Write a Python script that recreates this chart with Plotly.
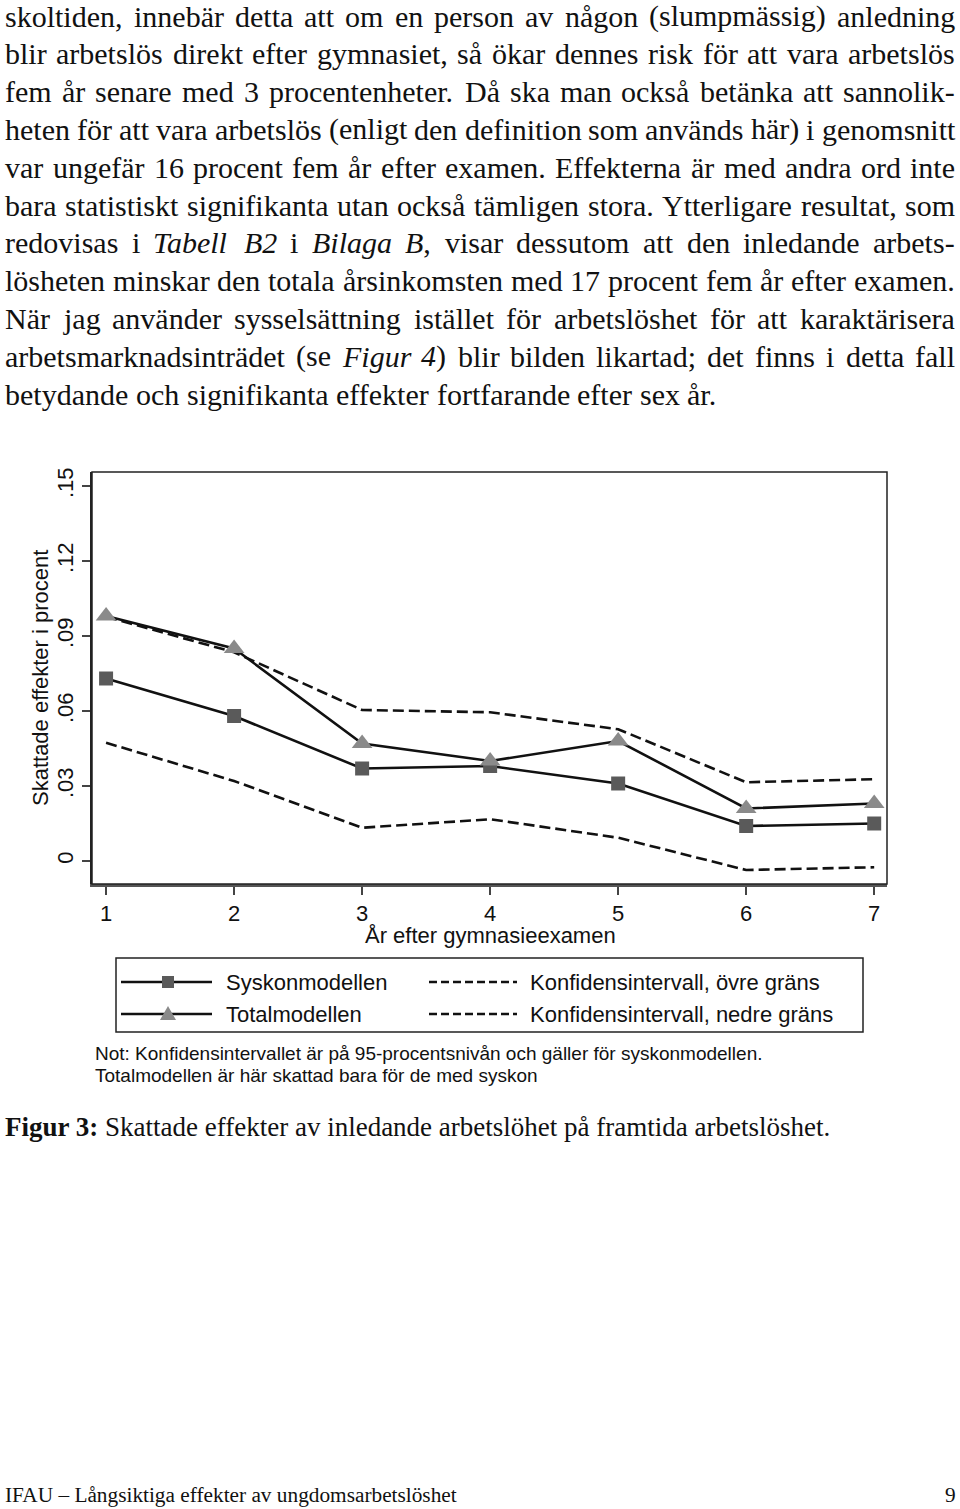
import plotly.graph_objects as go

# ---------------- data ----------------
years = [1, 2, 3, 4, 5, 6, 7]
syskon = [0.073, 0.058, 0.037, 0.038, 0.031, 0.014, 0.015]
total = [0.098, 0.085, 0.047, 0.040, 0.048, 0.021, 0.023]
ci_upper = [0.0977, 0.0835, 0.0604, 0.0595, 0.0527, 0.0315, 0.0327]
ci_lower = [0.0473, 0.032, 0.0133, 0.0167, 0.0093, -0.0036, -0.0025]
ytick_vals = [0, 0.03, 0.06, 0.09, 0.12, 0.15]
ytick_text = ["0", ".03", ".06", ".09", ".12", ".15"]
xtick_vals = years
xtick_text = ["1", "2", "3", "4", "5", "6", "7"]

series_names = ["Syskonmodellen", "Totalmodellen",
                "Konfidensintervall, övre gräns", "Konfidensintervall, nedre gräns"]
x_title = "År efter gymnasieexamen"
y_title = "Skattade effekter i procent"

body_lines = [
    "skoltiden, innebär detta att om en person av någon (slumpmässig) anledning",
    "blir arbetslös direkt efter gymnasiet, så ökar dennes risk för att vara arbetslös",
    "fem år senare med 3 procentenheter. Då ska man också betänka att sannolik-",
    "heten för att vara arbetslös (enligt den definition som används här) i genomsnitt",
    "var ungefär 16 procent fem år efter examen. Effekterna är med andra ord inte",
    "bara statistiskt signifikanta utan också tämligen stora. Ytterligare resultat, som",
    "redovisas i <i>Tabell</i> <i>B2</i> i <i>Bilaga</i> <i>B</i>, visar dessutom att den inledande arbets-",
    "lösheten minskar den totala årsinkomsten med 17 procent fem år efter examen.",
    "När jag använder sysselsättning istället för arbetslöshet för att karaktärisera",
    "arbetsmarknadsinträdet (se <i>Figur</i> <i>4</i>) blir bilden likartad; det finns i detta fall",
    "betydande och signifikanta effekter fortfarande efter sex år.",
]
note_lines = [
    "Not: Konfidensintervallet är på 95-procentsnivån och gäller för syskonmodellen.",
    "Totalmodellen är här skattad bara för de med syskon",
]
caption = "<b>Figur 3:</b> Skattade effekter av inledande arbetslöhet på framtida arbetslöshet."
footer_left = "IFAU – Långsiktiga effekter av ungdomsarbetslöshet"
footer_right = "9"

# ---------------- layout geometry (pixels) ----------------
W, H = 960, 1509
PL, PR, PT, PB = 92, 887, 472, 884
PW, PH = PR - PL, PB - PT


def fx(px):
    return (px - PL) / PW


def fy(py):
    return (PB - py) / PH


# Times (Liberation Serif) advance widths per 1000 em
REG = {' ': 250, 'a': 444, 'b': 500, 'c': 444, 'd': 500, 'e': 444, 'f': 333, 'g': 500,
       'h': 500, 'i': 278, 'j': 278, 'k': 500, 'l': 278, 'm': 778, 'n': 500, 'o': 500,
       'p': 500, 'q': 500, 'r': 333, 's': 389, 't': 278, 'u': 500, 'v': 500, 'w': 722,
       'x': 500, 'y': 500, 'z': 444, 'ä': 444, 'å': 444, 'ö': 500, 'é': 444,
       'A': 722, 'B': 667, 'C': 667, 'D': 722, 'E': 611, 'F': 556, 'G': 722, 'H': 722,
       'I': 333, 'J': 389, 'K': 722, 'L': 611, 'M': 889, 'N': 722, 'O': 722, 'P': 556,
       'Q': 722, 'R': 667, 'S': 556, 'T': 611, 'U': 722, 'V': 722, 'W': 944, 'X': 722,
       'Y': 722, 'Z': 611, ',': 250, '.': 250, ';': 278, ':': 278, '(': 333, ')': 333,
       '-': 333, '–': 500}
for d in '0123456789':
    REG[d] = 500
ITA = {'T': 556, 'a': 500, 'b': 500, 'e': 444, 'l': 278, 'B': 611, 'i': 278, 'g': 500,
       'F': 611, 'u': 500, 'r': 389, '2': 500, '4': 500}


def measure(tok, size):
    w, it, i = 0, False, 0
    while i < len(tok):
        if tok.startswith('<i>', i):
            it = True
            i += 3
            continue
        if tok.startswith('</i>', i):
            it = False
            i += 4
            continue
        c = tok[i]
        w += ITA.get(c, REG.get(c, 500)) if it else REG.get(c, 500)
        i += 1
    return w * size / 1000.0


fig = go.Figure()

line_col = '#111111'
fig.add_trace(go.Scatter(x=years, y=ci_upper, mode='lines', name=series_names[2],
                         line=dict(color=line_col, width=2.6, dash='11px,5px')))
fig.add_trace(go.Scatter(x=years, y=ci_lower, mode='lines', name=series_names[3],
                         line=dict(color=line_col, width=2.6, dash='11px,5px')))
fig.add_trace(go.Scatter(x=years, y=syskon, mode='lines+markers', name=series_names[0],
                         line=dict(color=line_col, width=2.6),
                         marker=dict(symbol='square', size=14, color='#5a5a5a',
                                     line=dict(width=0))))
fig.add_trace(go.Scatter(x=years, y=total, mode='lines+markers', name=series_names[1],
                         line=dict(color=line_col, width=2.6),
                         marker=dict(symbol='triangle-up', size=18, color='#8a8a8a',
                                     line=dict(width=0))))

annotations = []
shapes = []

# frame around plot region
shapes.append(dict(type='rect', xref='paper', yref='paper', x0=0, x1=1, y0=0, y1=1,
                   line=dict(color='#222222', width=1.5), layer='above'))

# axis titles
chart_font = "Liberation Sans, Arial, sans-serif"
annotations.append(dict(text=y_title, x=fx(40), y=fy(678), xref='paper', yref='paper',
                        showarrow=False, textangle=-90, xanchor='center', yanchor='middle',
                        font=dict(family=chart_font, size=22, color='#111')))
annotations.append(dict(text=x_title, x=fx(490), y=fy(935), xref='paper', yref='paper',
                        showarrow=False, xanchor='center', yanchor='middle',
                        font=dict(family=chart_font, size=22, color='#111')))

# legend box
shapes.append(dict(type='rect', xref='paper', yref='paper', x0=fx(116), x1=fx(863),
                   y0=fy(1032), y1=fy(958), line=dict(color='#222', width=1.5)))
ly1, ly2 = 982, 1014
for ly in (ly1, ly2):
    shapes.append(dict(type='line', xref='paper', yref='paper', x0=fx(121), x1=fx(212),
                       y0=fy(ly), y1=fy(ly), line=dict(color=line_col, width=2.6)))
    shapes.append(dict(type='line', xref='paper', yref='paper', x0=fx(429), x1=fx(517),
                       y0=fy(ly), y1=fy(ly), line=dict(color=line_col, width=2.4, dash='8px,4px')))
shapes.append(dict(type='rect', xref='paper', yref='paper', x0=fx(162), x1=fx(174),
                   y0=fy(ly1 + 6), y1=fy(ly1 - 6), fillcolor='#5a5a5a', line=dict(width=0)))
tx = [fx(160), fx(168), fx(176)]
ty = [fy(ly2 + 6), fy(ly2 - 8), fy(ly2 + 6)]
shapes.append(dict(type='path', xref='paper', yref='paper',
                   path=f"M {tx[0]},{ty[0]} L {tx[1]},{ty[1]} L {tx[2]},{ty[2]} Z",
                   fillcolor='#8a8a8a', line=dict(width=0)))
for (txt, x, y) in [(series_names[0], 226, ly1), (series_names[1], 226, ly2),
                    (series_names[2], 530, ly1), (series_names[3], 530, ly2)]:
    annotations.append(dict(text=txt, x=fx(x), y=fy(y), xref='paper', yref='paper',
                            showarrow=False, xanchor='left', yanchor='middle',
                            borderpad=0, borderwidth=0,
                            font=dict(family=chart_font, size=22, color='#111')))

# note
for i, t in enumerate(note_lines):
    annotations.append(dict(text=t, x=fx(95), y=fy(1053 + 22 * i), xref='paper', yref='paper',
                            showarrow=False, xanchor='left', yanchor='middle',
                            borderpad=0, borderwidth=0,
                            font=dict(family=chart_font, size=19, color='#111')))

# body text, justified word by word
serif = "Liberation Serif, Times New Roman, serif"
BODY_SIZE = 30
x_left, x_right = 5, 955
for li, line in enumerate(body_lines):
    words = line.split(' ')
    widths = [measure(w, BODY_SIZE) for w in words]
    yc = 16 + 37.8 * li
    if li == len(body_lines) - 1:
        gap = REG[' '] * BODY_SIZE / 1000.0
    else:
        gap = (x_right - x_left - sum(widths)) / (len(words) - 1)
    xp = x_left
    for w, wd in zip(words, widths):
        annotations.append(dict(text=w, x=fx(xp), y=fy(yc), xref='paper', yref='paper',
                                showarrow=False, xanchor='left', yanchor='middle',
                                borderpad=0, borderwidth=0,
                                font=dict(family=serif, size=BODY_SIZE, color='#111')))
        xp += wd + gap

# caption
annotations.append(dict(text=caption, x=fx(5), y=fy(1127), xref='paper', yref='paper',
                        showarrow=False, xanchor='left', yanchor='middle',
                        borderpad=0, borderwidth=0,
                        font=dict(family=serif, size=27, color='#111')))
# footer
annotations.append(dict(text=footer_left, x=fx(5), y=fy(1495), xref='paper', yref='paper',
                        showarrow=False, xanchor='left', yanchor='middle',
                        borderpad=0, borderwidth=0,
                        font=dict(family=serif, size=21.3, color='#111')))
annotations.append(dict(text=footer_right, x=fx(956), y=fy(1495), xref='paper', yref='paper',
                        showarrow=False, xanchor='right', yanchor='middle',
                        borderpad=0, borderwidth=0,
                        font=dict(family=serif, size=21.3, color='#111')))

fig.update_layout(
    width=W, height=H,
    margin=dict(l=PL, r=W - PR, t=PT, b=H - PB, pad=0),
    paper_bgcolor='white', plot_bgcolor='white',
    showlegend=False,
    annotations=annotations, shapes=shapes,
    xaxis=dict(range=[0.89, 7.1], tickvals=xtick_vals, ticktext=xtick_text,
               showgrid=False, zeroline=False, showline=True, linecolor='#555555',
               linewidth=3, ticks='outside', ticklen=8, tickwidth=1.5, tickcolor='#444',
               tickfont=dict(family=chart_font, size=22, color='#111')),
    yaxis=dict(range=[-0.0092, 0.1556], tickvals=ytick_vals, ticktext=ytick_text,
               showgrid=False, zeroline=False, showline=True, linecolor='#222',
               linewidth=1.5, ticks='outside', ticklen=8, tickwidth=1.5, tickcolor='#444',
               tickangle=-90,
               tickfont=dict(family=chart_font, size=22, color='#111')),
)

fig.write_html("out.html")
